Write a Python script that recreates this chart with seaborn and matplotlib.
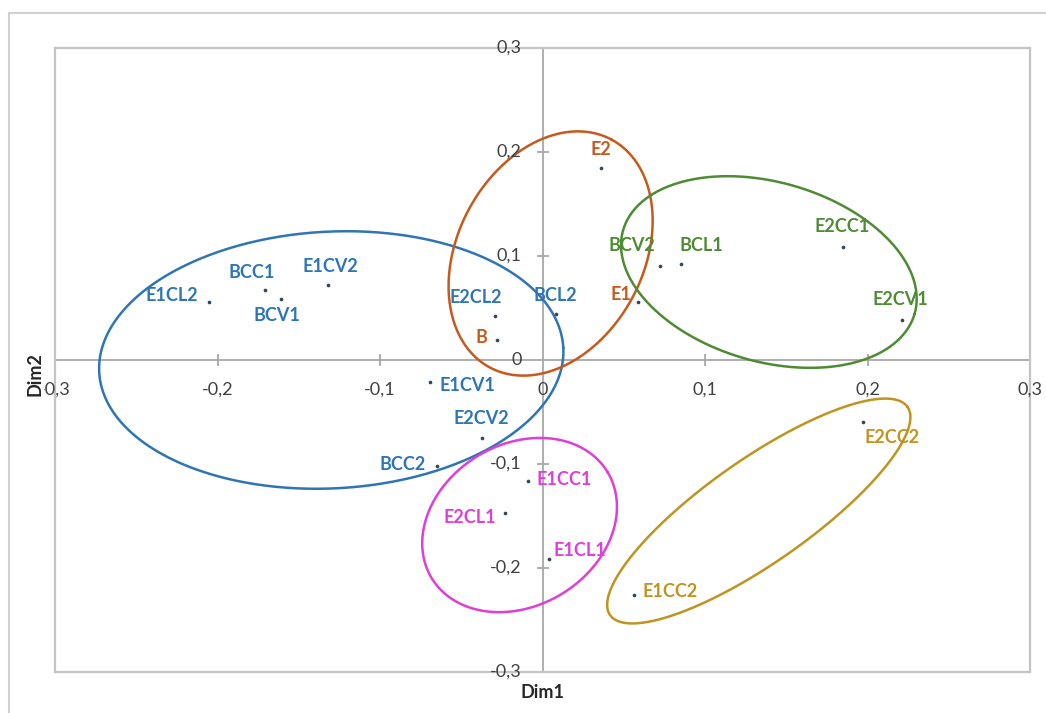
import numpy as np
import pandas as pd
import matplotlib.pyplot as plt
import seaborn as sns
from matplotlib.lines import Line2D

# coordonnees
labels = ['E1CL2', 'BCC1', 'BCV1', 'E1CV2', 'E2CL2', 'BCL2', 'E1CV1', 'E2CV2', 'BCC2',
          'E2', 'E1', 'B',
          'BCV2', 'BCL1', 'E2CC1', 'E2CV1',
          'E1CC1', 'E2CL1', 'E1CL1',
          'E2CC2', 'E1CC2']
dim1 = [-0.205, -0.171, -0.161, -0.132, -0.029, 0.008, -0.069, -0.037, -0.065,
        0.036, 0.059, -0.028,
        0.072, 0.085, 0.185, 0.221,
        -0.009, -0.023, 0.004,
        0.197, 0.056]
dim2 = [0.056, 0.067, 0.059, 0.072, 0.042, 0.044, -0.021, -0.075, -0.102,
        0.185, 0.056, 0.019,
        0.090, 0.092, 0.109, 0.038,
        -0.116, -0.147, -0.191,
        -0.060, -0.226]
groups = ['bleu'] * 9 + ['orange'] * 3 + ['vert'] * 4 + ['rose'] * 3 + ['or'] * 2

# decalage des etiquettes (pixels)
label_dx = [-38, -13, -4, 2, -20, 0, 37, -1, -34,
            0, -17, -16,
            -28, 21, -1, -1,
            36, -35, 31,
            29, 37]
label_dy = [6, 18, -17, 19, 19, 19, -4, 19, 2,
            18, 7, 3,
            21, 19, 20, 21,
            1, -5, 8,
            -15, 4]

couleurs = {'bleu': '#2f75b5', 'orange': '#c55a1c', 'vert': '#4f8a34',
            'rose': '#dd3fd8', 'or': '#bf9420'}

# ellipses: centre x, centre y, demi-axes (unites de Dim1), angle
ellipses = {'bleu': (-0.130, 0.0, 0.143, 0.079, 3),
            'orange': (0.005, 0.1024, 0.0795, 0.0572, 62),
            'vert': (0.1393, 0.0846, 0.0933, 0.0552, -16),
            'rose': (-0.0141, -0.1587, 0.0632, 0.0497, 31),
            'or': (0.1331, -0.1452, 0.1117, 0.0319, 35)}

ticks = [-0.3, -0.2, -0.1, 0, 0.1, 0.2, 0.3]
tick_txt = ['-0,3', '-0,2', '-0,1', '0', '0,1', '0,2', '0,3']

df = pd.DataFrame({'label': labels, 'Dim1': dim1, 'Dim2': dim2, 'groupe': groups})

sns.set_style("white")
plt.rcParams['font.family'] = ['Lato', 'DejaVu Sans']

fig = plt.figure(figsize=(10.46, 7.13), dpi=100)
ax = fig.add_axes([55 / 1046, 41 / 713, 975 / 1046, 624 / 713])
ax.set_xlim(-0.3, 0.3)
ax.set_ylim(-0.3, 0.3)
ax.set_xticks([])
ax.set_yticks([])
for s in ax.spines.values():
    s.set_color('#c4c4c4')
    s.set_linewidth(1.6)

# axes centraux
ax.axhline(0, color='#a8a8a8', lw=1.3, zorder=1)
ax.axvline(0, color='#a8a8a8', lw=1.3, zorder=1)
inner = [t for t in ticks if t not in (-0.3, 0, 0.3)]
ax.plot(inner, [0] * len(inner), ls='none', marker='|', ms=9, mew=1.3, color='#a8a8a8')
ax.plot([0] * len(inner), inner, ls='none', marker='_', ms=9, mew=1.3, color='#a8a8a8')

for v, t in zip(ticks, tick_txt):
    ax.annotate(t, (v, 0), xytext=(0, -30), textcoords='offset pixels', ha='center', va='center',
                fontsize=13, color='#404040', annotation_clip=False)
    ax.annotate(t, (0, v), xytext=(-21, 0), textcoords='offset pixels', ha='right', va='center',
                fontsize=13, color='#404040', annotation_clip=False)

ax.annotate('Dim1', (0, -0.3), xytext=(0, -21), textcoords='offset pixels', ha='center', va='center',
            fontsize=13, fontweight='bold', color='#262626', annotation_clip=False)
ax.annotate('Dim2', (-0.3, 0), xytext=(-20, -14), textcoords='offset pixels', ha='center', va='center',
            rotation=90, fontsize=13, fontweight='bold', color='#262626', annotation_clip=False,
            zorder=6, bbox=dict(boxstyle='square,pad=0.05', fc='white', ec='none'))

# ellipses
r = (975 / 0.6) / (624 / 0.6)
t = np.linspace(0, 2 * np.pi, 400)
for g, (cx, cy, a, b, ang) in ellipses.items():
    th = np.deg2rad(ang)
    ex = cx + a * np.cos(t) * np.cos(th) - b * np.sin(t) * np.sin(th)
    ey = cy + (a * np.cos(t) * np.sin(th) + b * np.sin(t) * np.cos(th)) * r
    ax.plot(ex, ey, color=couleurs[g], lw=1.8, zorder=2)

sns.scatterplot(data=df, x='Dim1', y='Dim2', color='#34465c', s=7, linewidth=0, ax=ax, zorder=4)
ax.set_xlabel('')
ax.set_ylabel('')

for lab, x, y, g, dx, dy in zip(labels, dim1, dim2, groups, label_dx, label_dy):
    ax.annotate(lab, (x, y), xytext=(dx, dy), textcoords='offset pixels', ha='center', va='center',
                fontsize=13, fontweight='bold', color=couleurs[g], zorder=5)

# cadre exterieur
fig.add_artist(Line2D([9 / 1046, 9 / 1046], [0, 1 - 13 / 713], transform=fig.transFigure,
                      color='#d0d0d0', lw=1.5))
fig.add_artist(Line2D([9 / 1046, 1], [1 - 13 / 713, 1 - 13 / 713], transform=fig.transFigure,
                      color='#d0d0d0', lw=1.5))

fig.savefig('out.png', dpi=100)
